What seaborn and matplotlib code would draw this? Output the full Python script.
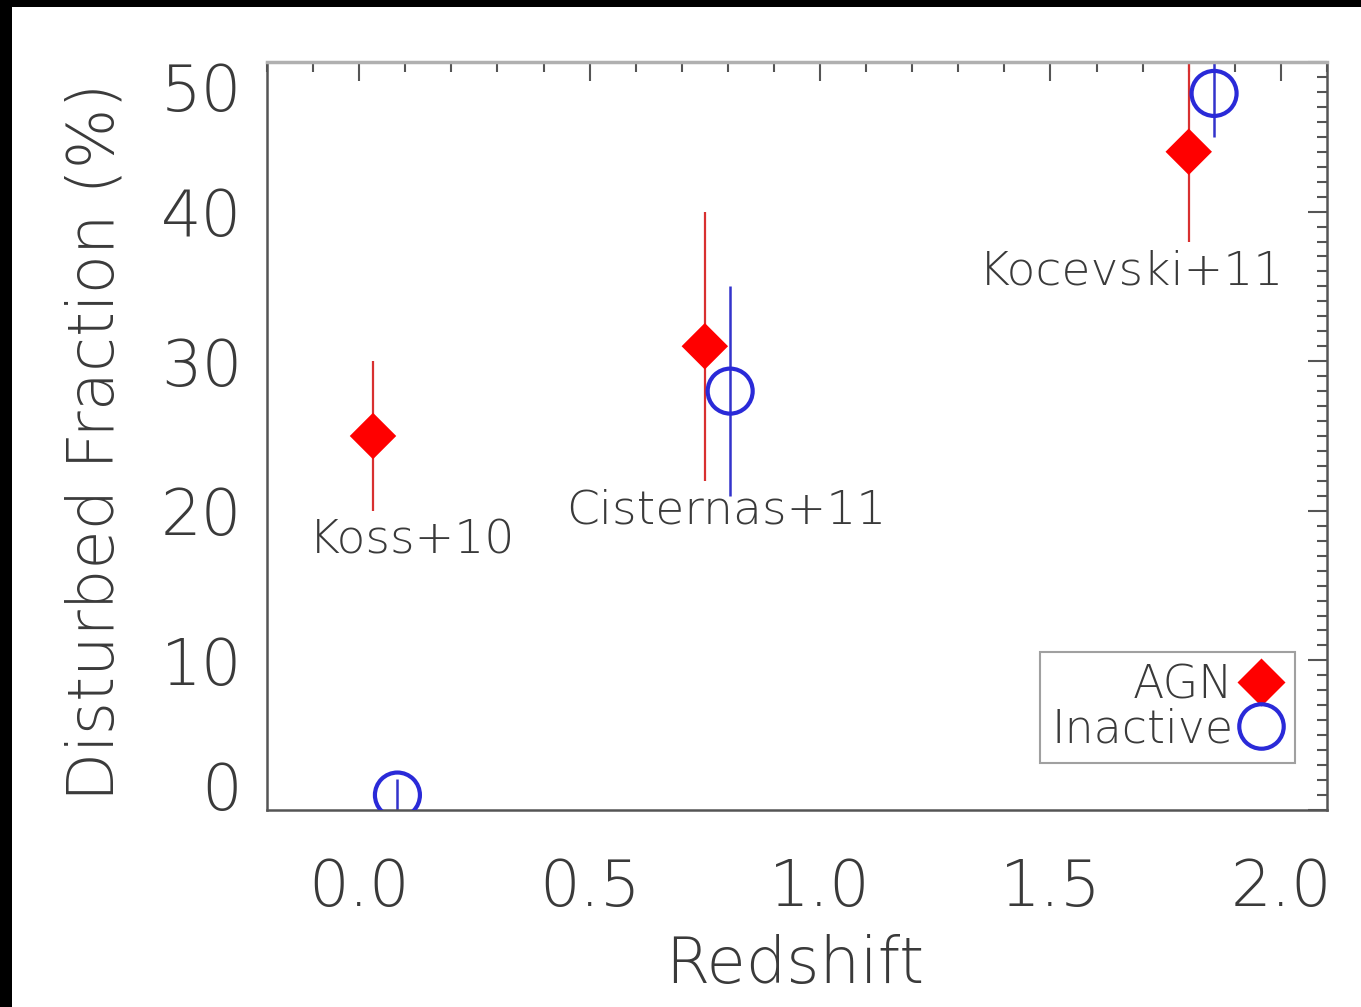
import matplotlib
matplotlib.use("Agg")
import matplotlib.pyplot as plt
import seaborn as sns
import pandas as pd
from matplotlib.patches import Rectangle
from matplotlib.ticker import MultipleLocator
from matplotlib.lines import Line2D

# ---- data ----
studies = ["Koss+10", "Cisternas+11", "Kocevski+11"]
agn_z = [0.03, 0.75, 1.80]
agn_frac = [25.0, 31.0, 44.0]
agn_err = [5.0, 9.0, 6.0]
ina_z = [0.083, 0.805, 1.855]
ina_frac = [1.0, 28.0, 47.9]
ina_err = [1.1, 7.0, 2.9]
label_x = [0.115, 0.796, 1.676]
label_y = [18.0, 20.0, 36.0]
xticks = [0.0, 0.5, 1.0, 1.5, 2.0]
yticks = [0, 10, 20, 30, 40, 50]

sns.set_theme(style="white")
plt.rcParams['font.family'] = ['DejaVu Sans']
plt.rcParams['font.weight'] = 'light'
plt.rcParams['axes.labelweight'] = 'light'
TXT = '#3a3a3a'

fig = plt.figure(figsize=(13.61, 10.07), dpi=100, facecolor='black')
fig.patches.append(Rectangle((12/1361, 0), 1 - 12/1361, 1 - 7/1007,
                             transform=fig.transFigure, facecolor='white',
                             edgecolor='none', zorder=-10))
ax = fig.add_axes([267/1361, 1 - 810/1007, (1327-267)/1361, (810-62)/1007])
ax.set_facecolor('white')

df = pd.DataFrame({
    "z": agn_z + ina_z,
    "frac": agn_frac + ina_frac,
    "type": ["AGN"] * 3 + ["Inactive"] * 3,
})

ax.errorbar(agn_z, agn_frac, yerr=agn_err, fmt='none', ecolor='#d83030',
            elinewidth=1.6, capsize=0, zorder=2)
ax.errorbar(ina_z, ina_frac, yerr=ina_err, fmt='none', ecolor='#3333cc',
            elinewidth=1.8, capsize=0, zorder=2)

sns.scatterplot(data=df[df.type == "AGN"], x="z", y="frac", marker='D', s=560,
                color='#ff0000', edgecolor='none', ax=ax, zorder=3, legend=False)
sns.scatterplot(data=df[df.type == "Inactive"], x="z", y="frac", marker='o', s=1050,
                facecolor='none', edgecolor='#2a2ad8', linewidth=3.0, ax=ax,
                zorder=3, legend=False)

for name, lx, ly in zip(studies, label_x, label_y):
    ax.text(lx, ly, name, ha='center', va='center', fontsize=34, color=TXT,
            fontweight='light')

ax.set_xlim(-0.2, 2.1)
ax.set_ylim(0, 50)
ax.set_xticks(xticks)
ax.set_xticklabels([f"{t:.1f}" for t in xticks])
ax.set_yticks(yticks)
ax.set_yticklabels([str(t) for t in yticks])
ax.xaxis.set_minor_locator(MultipleLocator(0.1))
ax.yaxis.set_minor_locator(MultipleLocator(1))
ax.tick_params(which='both', direction='in', top=True, right=True,
               color='#555555', width=1.5)
ax.tick_params(which='major', length=14)
ax.tick_params(which='minor', length=7)
ax.tick_params(axis='x', which='major', labelsize=46, pad=34, labelcolor=TXT)
ax.tick_params(axis='y', which='major', labelsize=46, pad=18, labelcolor=TXT)
ylabels = ax.get_yticklabels()
ylabels[0].set_va('baseline')
ylabels[-1].set_va('top')

for side in ['left', 'bottom', 'right']:
    ax.spines[side].set_color('#555555')
    ax.spines[side].set_linewidth(1.8)
ax.spines['top'].set_color('#b0b0b0')
ax.spines['top'].set_linewidth(2.5)

ax.set_xlabel("Redshift", fontsize=46, color=TXT, fontweight='light')
ax.set_ylabel("Disturbed Fraction (%)", fontsize=46, color=TXT, fontweight='light')
ax.xaxis.set_label_coords((795-267)/1060, -(934-810)/748)
ax.yaxis.set_label_coords(-(267-127)/1060, (810-442)/748)

handles = [
    Line2D([], [], linestyle='none', marker='D', markersize=24,
           markerfacecolor='#ff0000', markeredgecolor='none'),
    Line2D([], [], linestyle='none', marker='o', markersize=32,
           markerfacecolor='none', markeredgecolor='#2a2ad8', markeredgewidth=3.0),
]
leg = ax.legend(handles, ["AGN", "Inactive"], loc='lower right',
                bbox_to_anchor=(0.970, 0.063), markerfirst=False,
                fontsize=33, frameon=True, fancybox=False, handlelength=1.0,
                handletextpad=0.1, borderpad=0.25, labelspacing=0.0,
                borderaxespad=0)
leg.get_frame().set_edgecolor('#888888')
leg.get_frame().set_linewidth(1.5)
for t in leg.get_texts():
    t.set_color(TXT)
    t.set_ha('right')

fig.savefig("out.png", dpi=100, facecolor=fig.get_facecolor())
